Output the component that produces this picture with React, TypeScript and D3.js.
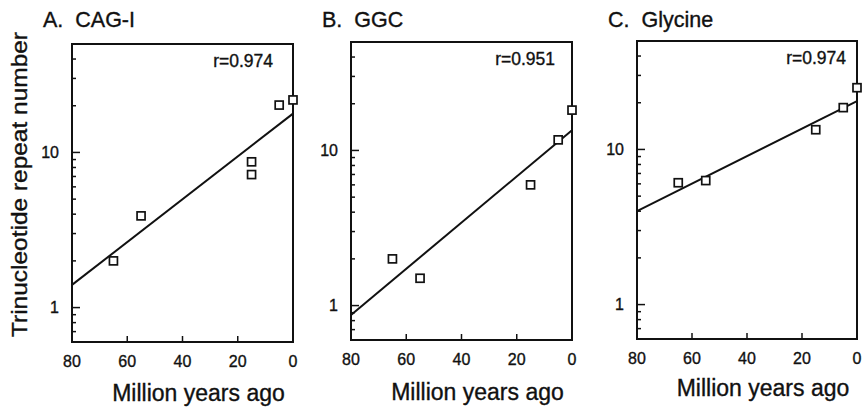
import * as d3 from 'd3'

const W = 862
const H = 412
const FONT = '"Liberation Sans", Arial, Helvetica, sans-serif'
const INK = '#111'

// data
const panelTitles = ['A.  CAG-I', 'B.  GGC', 'C.  Glycine']
const rLabels = ['r=0.974', 'r=0.951', 'r=0.974']

const agesA = [65, 55, 15, 15, 5, 0]
const repeatsA = [2.0, 3.9, 8.7, 7.2, 20.2, 21.8]
const agesB = [65, 55, 15, 5, 0]
const repeatsB = [2.0, 1.5, 6.0, 11.7, 18.2]
const agesC = [65, 55, 15, 5, 0]
const repeatsC = [6.1, 6.3, 13.4, 18.6, 25]

// regression line end points (at 80 and 0 Myr)
const fitAges = [80, 0]
const fitA = [1.4, 17.8]
const fitB = [0.87, 13.5]
const fitC = [4.0, 20.5]

const xTicks = [80, 60, 40, 20, 0]
const yDomain = [0.6, 50]
const majorY = [1, 10]

const panels = [
  { ages: agesA, reps: repeatsA, fit: fitA, box: { x: 72, y: 44, w: 221, h: 298 }, rDx: -20, titleY: 401 },
  { ages: agesB, reps: repeatsB, fit: fitB, box: { x: 351, y: 42, w: 221, h: 298 }, rDx: -17, titleY: 400 },
  { ages: agesC, reps: repeatsC, fit: fitC, box: { x: 637, y: 41, w: 220, h: 298 }, rDx: -11, titleY: 396 },
]

// scanned figure: text looks a bit heavier than plain Arial
const heavy = { stroke: INK, strokeWidth: 0.35 }

function Panel({ idx }: { idx: number }) {
  const p = panels[idx]
  const { x, y, w, h } = p.box
  const xs = d3.scaleLinear().domain([80, 0]).range([x, x + w])
  const ys = d3.scaleLog().domain(yDomain).range([y + h, y])
  const minor = ys.ticks().filter((t) => t > yDomain[0] && t < yDomain[1] && !majorY.includes(t))
  const fitLine = d3
    .line<number>()
    .x((_, i) => xs(fitAges[i]))
    .y((d) => ys(d))
  const sq = 8

  return (
    <g>
      <text x={x - 29} y={27} fontSize={21.5} fontFamily={FONT} fill={INK} {...heavy} style={{ whiteSpace: 'pre' }}>
        {panelTitles[idx]}
      </text>
      <rect x={x} y={y} width={w} height={h} fill="none" stroke={INK} strokeWidth={2} />
      {minor.map((t) => (
        <line key={'m' + t} x1={x} x2={x + 4} y1={ys(t)} y2={ys(t)} stroke={INK} strokeWidth={1.5} />
      ))}
      {majorY.map((t) => (
        <g key={'M' + t}>
          <line x1={x} x2={x + 8} y1={ys(t)} y2={ys(t)} stroke={INK} strokeWidth={1.5} />
          <text x={x - 13} y={ys(t)} dy="0.35em" textAnchor="end" fontSize={16} fontFamily={FONT} fill={INK} {...heavy}>
            {t}
          </text>
        </g>
      ))}
      {xTicks.map((t) => (
        <g key={'x' + t}>
          {t > 0 && t < 80 && (
            <line x1={xs(t)} x2={xs(t)} y1={y + h} y2={y + h - 6} stroke={INK} strokeWidth={1.5} />
          )}
          <text x={xs(t)} y={y + h + 25} textAnchor="middle" fontSize={16} fontFamily={FONT} fill={INK} {...heavy}>
            {t}
          </text>
        </g>
      ))}
      <path d={fitLine(p.fit) || ''} fill="none" stroke={INK} strokeWidth={2} />
      {p.ages.map((a, i) => (
        <rect
          key={'p' + i}
          x={xs(a) - sq / 2}
          y={ys(p.reps[i]) - sq / 2}
          width={sq}
          height={sq}
          fill="#fff"
          stroke={INK}
          strokeWidth={1.7}
        />
      ))}
      <text x={x + w + p.rDx} y={y + 23} textAnchor="end" fontSize={17.5} fontFamily={FONT} fill={INK} {...heavy}>
        {rLabels[idx]}
      </text>
      <text x={x + w / 2 + 16} y={p.titleY} textAnchor="middle" fontSize={23} fontFamily={FONT} fill={INK} {...heavy}>
        Million years ago
      </text>
    </g>
  )
}

export default function App() {
  return (
    <svg
      width={W}
      height={H}
      viewBox={`0 0 ${W} ${H}`}
      style={{ position: 'absolute', left: 0, top: 0, background: '#fff' }}
    >
      <rect width={W} height={H} fill="#fff" />
      <text
        transform="translate(27,184.5) rotate(-90)"
        textAnchor="middle"
        fontSize={22}
        fontFamily={FONT}
        fill={INK}
        {...heavy}
        textLength={305}
        lengthAdjust="spacingAndGlyphs"
      >
        Trinucleotide repeat number
      </text>
      {panels.map((_, i) => (
        <Panel key={i} idx={i} />
      ))}
    </svg>
  )
}
